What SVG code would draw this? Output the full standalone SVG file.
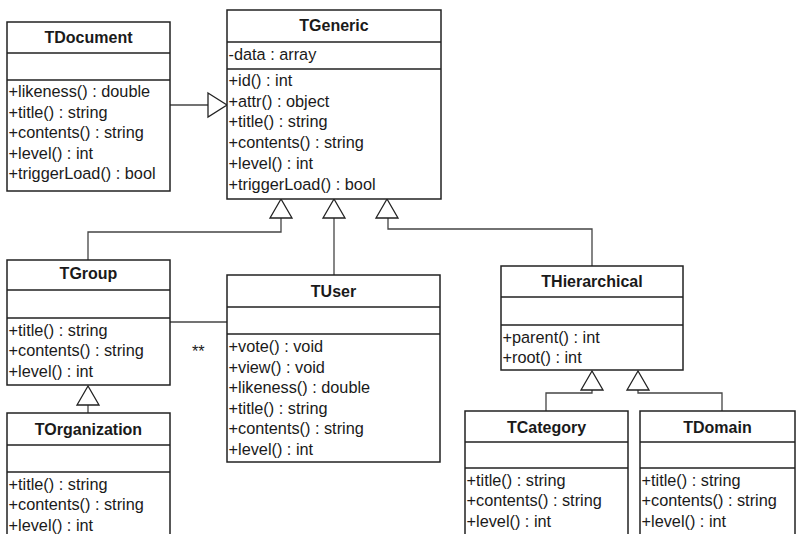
<svg xmlns="http://www.w3.org/2000/svg" width="796" height="534" viewBox="0 0 796 534">
<style>
.box{fill:#fff;stroke:#222;stroke-width:1.5}
.div{stroke:#222;stroke-width:1.5}
.t{font-family:"Liberation Sans",Arial,sans-serif;font-size:16px;font-weight:bold;fill:#1a1a1a;text-anchor:middle}
.m{font-family:"Liberation Sans",Arial,sans-serif;font-size:16.3px;fill:#1a1a1a}
.c{fill:none;stroke:#444;stroke-width:1.3}
.tri{fill:#fff;stroke:#222;stroke-width:1.3}
</style>
<rect width="796" height="534" fill="#fff"/>
<g id="connectors">
<path class="c" d="M170,105 H208"/>
<polygon class="tri" points="208,93 227,105 208,117"/>
<path class="c" d="M88,260 V232 H281 V218"/>
<polygon class="tri" points="281,199 270,218 292,218"/>
<path class="c" d="M334,275 V218"/>
<polygon class="tri" points="334,199 323,218 345,218"/>
<path class="c" d="M592,266 V229 H388 V218"/>
<polygon class="tri" points="387,199 376,218 398,218"/>
<path class="c" d="M88,413 V405"/>
<polygon class="tri" points="88,386 77,405 99,405"/>
<path class="c" d="M546,411 V393 H592 V390"/>
<polygon class="tri" points="592,371 581,390 603,390"/>
<path class="c" d="M722,411 V393 H638 V390"/>
<polygon class="tri" points="638,371 627,390 649,390"/>
<path class="c" d="M170,322 H227"/>
<text class="m" x="192" y="357">**</text>
</g>
<g id="TDocument">
<rect class="box" x="7" y="22" width="163" height="169"/>
<path class="div" d="M7,53 H170 M7,80 H170"/>
<text class="t" x="88.5" y="43">TDocument</text>
<text class="m" x="8.5" y="97">+likeness() : double</text>
<text class="m" x="8.5" y="117.6">+title() : string</text>
<text class="m" x="8.5" y="138.2">+contents() : string</text>
<text class="m" x="8.5" y="158.8">+level() : int</text>
<text class="m" x="8.5" y="179.4">+triggerLoad() : bool</text>
</g>
<g id="TGeneric">
<rect class="box" x="227" y="10" width="214" height="189"/>
<path class="div" d="M227,42 H441 M227,69 H441"/>
<text class="t" x="334" y="31">TGeneric</text>
<text class="m" x="228.5" y="60">-data : array</text>
<text class="m" x="228.5" y="86">+id() : int</text>
<text class="m" x="228.5" y="106.7">+attr() : object</text>
<text class="m" x="228.5" y="127.4">+title() : string</text>
<text class="m" x="228.5" y="148.1">+contents() : string</text>
<text class="m" x="228.5" y="168.8">+level() : int</text>
<text class="m" x="228.5" y="189.5">+triggerLoad() : bool</text>
</g>
<g id="TGroup">
<rect class="box" x="7" y="260" width="163" height="125"/>
<path class="div" d="M7,290 H170 M7,318 H170"/>
<text class="t" x="88.5" y="279">TGroup</text>
<text class="m" x="8.5" y="335.5">+title() : string</text>
<text class="m" x="8.5" y="356.1">+contents() : string</text>
<text class="m" x="8.5" y="376.7">+level() : int</text>
</g>
<g id="TUser">
<rect class="box" x="227" y="275" width="213" height="187"/>
<path class="div" d="M227,307 H440 M227,334 H440"/>
<text class="t" x="333.5" y="297">TUser</text>
<text class="m" x="228.5" y="352">+vote() : void</text>
<text class="m" x="228.5" y="372.5">+view() : void</text>
<text class="m" x="228.5" y="393">+likeness() : double</text>
<text class="m" x="228.5" y="413.5">+title() : string</text>
<text class="m" x="228.5" y="434">+contents() : string</text>
<text class="m" x="228.5" y="454.5">+level() : int</text>
</g>
<g id="THierarchical">
<rect class="box" x="501" y="266" width="182" height="104"/>
<path class="div" d="M501,297 H683 M501,325 H683"/>
<text class="t" x="592" y="287">THierarchical</text>
<text class="m" x="502.5" y="342.5">+parent() : int</text>
<text class="m" x="502.5" y="363">+root() : int</text>
</g>
<g id="TOrganization">
<rect class="box" x="7" y="413" width="163" height="140"/>
<path class="div" d="M7,445 H170 M7,472 H170"/>
<text class="t" x="88.5" y="434.5">TOrganization</text>
<text class="m" x="8.5" y="489.5">+title() : string</text>
<text class="m" x="8.5" y="510">+contents() : string</text>
<text class="m" x="8.5" y="530.5">+level() : int</text>
</g>
<g id="TCategory">
<rect class="box" x="465" y="411" width="163" height="140"/>
<path class="div" d="M465,442 H628 M465,468 H628"/>
<text class="t" x="546.5" y="432.5">TCategory</text>
<text class="m" x="466.5" y="485.5">+title() : string</text>
<text class="m" x="466.5" y="506">+contents() : string</text>
<text class="m" x="466.5" y="526.5">+level() : int</text>
</g>
<g id="TDomain">
<rect class="box" x="640" y="411" width="155" height="140"/>
<path class="div" d="M640,442 H795 M640,468 H795"/>
<text class="t" x="717.5" y="432.5">TDomain</text>
<text class="m" x="641.5" y="485.5">+title() : string</text>
<text class="m" x="641.5" y="506">+contents() : string</text>
<text class="m" x="641.5" y="526.5">+level() : int</text>
</g>
</svg>
